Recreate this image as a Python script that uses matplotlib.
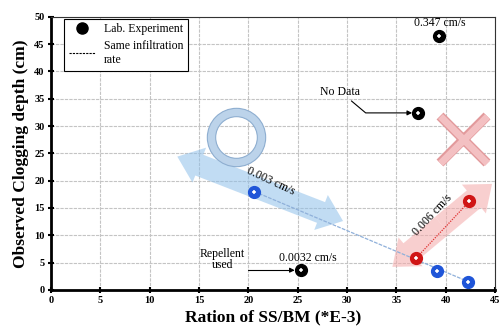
import numpy as np
import matplotlib.pyplot as plt
from matplotlib.patches import FancyArrowPatch
from matplotlib.lines import Line2D
import matplotlib.patheffects as pe

plt.rcParams['font.family'] = ['Liberation Serif', 'DejaVu Serif']

# lab experiment points
black_x = [39.3, 37.2, 25.3]
black_y = [46.5, 32.4, 3.6]
blue_x = [20.6, 39.1, 42.3]
blue_y = [18.0, 3.5, 1.5]
red_x = [37.0, 42.4]
red_y = [5.8, 16.2]

fig = plt.figure(figsize=(5.0, 3.29), dpi=100)
ax = fig.add_axes([0.102, 0.119, 0.888, 0.83])
ax.set_xlim(0, 45)
ax.set_ylim(0, 50)
ax.set_xticks(np.arange(0, 46, 5))
ax.set_yticks(np.arange(0, 51, 5))
ax.grid(True, ls=(0, (3, 1)), color='#c4c4c4', lw=0.8)
ax.set_axisbelow(True)
for s in ['left', 'bottom']:
    ax.spines[s].set_linewidth(2)
for s in ['top', 'right']:
    ax.spines[s].set_linewidth(0.8)
    ax.spines[s].set_color('#333333')
ax.tick_params(direction='inout', length=5, width=1.5, labelsize=7.5, pad=2)
for t in ax.get_xticklabels() + ax.get_yticklabels():
    t.set_fontweight('bold')
ax.set_xlabel('Ration of SS/BM (*E-3)', fontsize=12.5, fontweight='bold', labelpad=3)
ax.set_ylabel('Observed Clogging depth (cm)', fontsize=12.5, fontweight='bold', labelpad=4)

# fat double arrows
def fat_arrow(p0, p1, color):
    mid = ((p0[0] + p1[0]) / 2, (p0[1] + p1[1]) / 2)
    for end in (p0, p1):
        a = FancyArrowPatch(mid, end, arrowstyle='simple,head_width=27,head_length=17,tail_width=16',
                            color=color, alpha=0.55, lw=0, shrinkA=0, shrinkB=0, zorder=2)
        ax.add_patch(a)

fat_arrow((12.8, 24.4), (29.6, 12.6), '#8fc0ea')
fat_arrow((34.6, 4.2), (44.7, 19.4), '#f4a9a9')

# same infiltration rate lines
ax.plot([blue_x[0], blue_x[2]], [blue_y[0], blue_y[2]], ls=(0, (3, 1)), color='#8fb0da', lw=0.9, zorder=3)
ax.plot(red_x, red_y, ls=(0, (1, 1)), color='#e03030', lw=0.9, zorder=3)

# circle (O) and cross (X) marks
ax.plot(18.7, 27.9, 'o', ms=36, mfc='none', mec='#bcd3ea', mew=6, zorder=2)
ax.plot(18.7, 27.9, 'o', ms=42, mfc='none', mec='#8eaed0', mew=0.8, zorder=2)
ax.plot(18.7, 27.9, 'o', ms=30, mfc='none', mec='#8eaed0', mew=0.8, zorder=2)
ax.plot(41.8, 27.5, 'x', ms=34, mec='#f3c0c2', mew=5, zorder=2,
        path_effects=[pe.Stroke(linewidth=7, foreground='#e29a9c'), pe.Normal()])

def pts(x, y, c):
    ax.plot(x, y, 'o', ms=8.5, color=c, zorder=5)
    ax.plot(x, y, '+', ms=3.5, color='white', mew=1.1, zorder=6)

pts(black_x, black_y, 'black')
pts(blue_x, blue_y, '#1f55d8')
pts(red_x, red_y, '#d01515')

# labels
ax.text(39.4, 48.9, '0.347 cm/s', fontsize=8.5, ha='center', va='center')
ax.text(22.3, 19.9, '0.003 cm/s', fontsize=8.5, ha='center', va='center', rotation=-25)
ax.text(38.7, 13.7, '0.006 cm/s', fontsize=8.5, ha='center', va='center', rotation=47)
ax.text(26.0, 5.9, '0.0032 cm/s', fontsize=8.5, ha='center', va='center')

ax.annotate('No Data', xy=(36.6, 32.4), xytext=(29.3, 36.2), fontsize=8.5, ha='center', va='center',
            arrowprops=dict(arrowstyle='-|>', color='black', lw=0.8, mutation_scale=7,
                            connectionstyle='angle,angleA=-40,angleB=180,rad=0', relpos=(0.7, 0.0),
                            shrinkA=0, shrinkB=0))
ax.annotate('Repellent\nused', xy=(24.7, 3.6), xytext=(17.4, 5.5), fontsize=8.5, ha='center', va='center',
            linespacing=0.9,
            arrowprops=dict(arrowstyle='-|>', color='black', lw=0.8, mutation_scale=7,
                            connectionstyle='angle,angleA=-40,angleB=180,rad=3', relpos=(0.78, 0.15),
                            shrinkA=0, shrinkB=0))

# legend
handles = [Line2D([], [], marker='o', ls='none', color='black', ms=8),
           Line2D([], [], ls=(0, (2, 1)), color='black', lw=0.8)]
leg = ax.legend(handles, ['Lab. Experiment', 'Same infiltration\nrate'], loc='upper left',
                bbox_to_anchor=(0.029, 0.993), borderaxespad=0, fontsize=8.5, fancybox=False,
                edgecolor='black', framealpha=1, handlelength=2.2, borderpad=0.4, labelspacing=0.4)
leg.get_frame().set_linewidth(0.8)

fig.savefig('out.png', dpi=100)
